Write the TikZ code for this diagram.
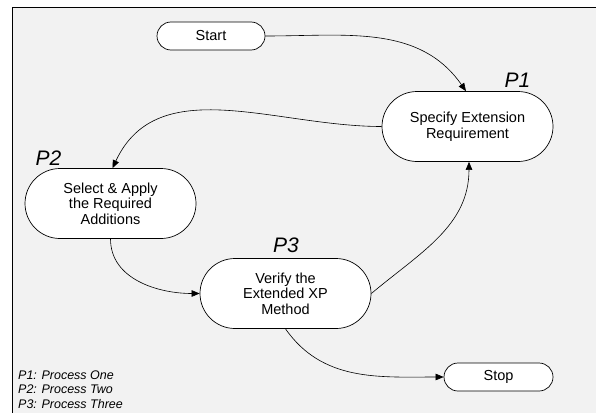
\documentclass[tikz,border=0pt]{standalone}
\usepackage{fontspec}
\setmainfont{Liberation Sans}
\usetikzlibrary{shapes.misc,arrows.meta}
\definecolor{bgc}{HTML}{F2F2F2}
\begin{document}
\begin{tikzpicture}[x=1pt,y=-1pt,
  proc/.style={draw, fill=white, rounded rectangle, minimum width=171pt, minimum height=70pt, align=center, font=\fontsize{14.5}{15.5}\selectfont, inner sep=0pt, line width=0.7pt},
  term/.style={draw, fill=white, rounded rectangle, minimum width=108pt, minimum height=28pt, font=\fontsize{14.5}{15.5}\selectfont, inner sep=0pt, line width=0.7pt},
  plabel/.style={font=\fontsize{21}{24}\selectfont\itshape, anchor=base, inner sep=0pt},
  conn/.style={-{Triangle[length=8pt,width=6.5pt]}, line width=0.6pt},
  legend/.style={font=\fontsize{12.5}{14}\selectfont\itshape, anchor=base west, inner sep=0pt}]
\useasboundingbox (0,0) rectangle (596,412);
\begin{scope}
\clip (0,0) rectangle (596,412);
\draw[fill=bgc, line width=0.8pt] (12.5,7.5) rectangle (620,430);
\end{scope}
\node[term] (start) at (211,36) {Start};
\node[proc] (p1) at (467.5,126.5) {Specify Extension\\Requirement};
\node[proc] (p2) at (110.5,203.5) {Select \& Apply\\the Required\\Additions};
\node[proc] (p3) at (285.5,293.5) {Verify the\\Extended XP\\Method};
\node[term, minimum width=109pt] (stop) at (498.5,377) {Stop};
\node[plabel] (l1) at (517.5,87) {P1};
\node[plabel] (l2) at (48.5,165) {P2};
\node[plabel] (l3) at (286,252) {P3};
\node[legend] (g1) at (18,379) {P1: Process One};
\node[legend] (g2) at (18,393.5) {P2: Process Two};
\node[legend] (g3) at (18,408) {P3: Process Three};
\draw[conn] (start.east) to[out=0,in=125] ([xshift=-1.5pt]p1.north);
\draw[conn] (p1.west) to[out=180,in=65] ([xshift=2pt]p2.north);
\draw[conn] (p2.south) to[out=-90,in=180] (p3.west);
\draw[conn] (p3.east) to[out=40,in=-90] ([xshift=1.5pt]p1.south);
\draw[conn] (p3.south) to[out=-55,in=180] (stop.west);
\end{tikzpicture}
\end{document}
